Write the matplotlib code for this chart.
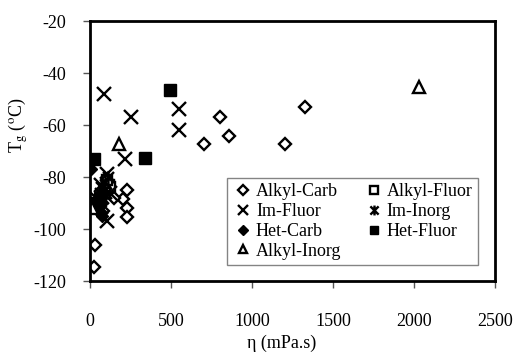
import matplotlib
matplotlib.use("Agg")
import matplotlib.pyplot as plt
from matplotlib.path import Path

plt.rcParams['font.family'] = ['Liberation Serif', 'DejaVu Serif']
plt.rcParams['mathtext.fontset'] = 'stix'
plt.rcParams['axes.unicode_minus'] = False

# viscosity (mPa.s) and Tg (C) per family
alkyl_carb_x = [1327, 802, 858, 704, 1204, 228, 204, 228, 228, 31, 25, 62, 80, 150]
alkyl_carb_y = [-53, -57, -64.3, -67.4, -67.4, -85, -88.5, -92, -95.5, -106, -114.7, -91, -93, -88]

alkyl_fluor_x = [115, 125, 105, 95]
alkyl_fluor_y = [-83, -84, -81, -86]

im_fluor_x = [88, 254, 550, 550, 218, 103, 103, 40, 70, 125]
im_fluor_y = [-48, -57, -54, -62, -73, -79, -97, -88, -83, -86]

im_inorg_x = [60, 70, 80, 90, 100, 50, 110, 75, 85]
im_inorg_y = [-86, -84, -88, -82, -86, -90, -80, -92, -85]

het_carb_x = [5, 62, 72, 50]
het_carb_y = [-77, -94, -95, -92]

het_fluor_x = [5, 25, 340, 494, 60]
het_fluor_y = [-90, -73, -72.8, -46.6, -88]

alkyl_inorg_x = [12, 179, 2031]
alkyl_inorg_y = [-92, -67.4, -45.4]

# excel style star: x with a vertical bar
star = Path([(-1, -1), (1, 1), (-1, 1), (1, -1), (0, -1.2), (0, 1.2)],
            [Path.MOVETO, Path.LINETO, Path.MOVETO, Path.LINETO, Path.MOVETO, Path.LINETO])

fig = plt.figure(figsize=(5.14, 3.52), dpi=100)
ax = fig.add_axes([90/514, 1-281/352, 405/514, 260/352])

kw = dict(linestyle='none', color='black')
h1, = ax.plot(alkyl_carb_x, alkyl_carb_y, marker='D', ms=6.5, mfc='white', mew=1.7, label='Alkyl-Carb', **kw)
h2, = ax.plot(alkyl_fluor_x, alkyl_fluor_y, marker='s', ms=7, mfc='white', mew=1.7, label='Alkyl-Fluor', **kw)
h3, = ax.plot(im_fluor_x, im_fluor_y, marker='x', ms=9.5, mew=1.7, label='Im-Fluor', **kw)
h4, = ax.plot(im_inorg_x, im_inorg_y, marker=star, ms=9.5, mew=1.7, label='Im-Inorg', **kw)
h5, = ax.plot(het_carb_x, het_carb_y, marker='D', ms=6.5, mfc='black', label='Het-Carb', **kw)
h6, = ax.plot(het_fluor_x, het_fluor_y, marker='s', ms=8.5, mfc='black', label='Het-Fluor', **kw)
h7, = ax.plot(alkyl_inorg_x, alkyl_inorg_y, marker='^', ms=8.5, mfc='white', mew=1.7, label='Alkyl-Inorg', **kw)

ax.set_xlim(0, 2500)
ax.set_ylim(-120, -20)
ax.set_xticks([0, 500, 1000, 1500, 2000, 2500])
ax.set_yticks([-120, -100, -80, -60, -40, -20])
ax.tick_params(direction='out', length=5, width=1, labelsize=13, color='#555555')
ax.tick_params(axis='x', pad=18)
ax.tick_params(axis='y', pad=12)
for s in ax.spines.values():
    s.set_linewidth(2)

leg = ax.legend(handles=[h1, h3, h5, h7, h2, h4, h6], ncol=2, loc='lower left',
                bbox_to_anchor=((218-90)/405, (281-274)/260, (487-218)/405, 100/260),
                mode='expand', fontsize=13, frameon=True, fancybox=False,
                borderpad=0.3, labelspacing=0.15, handletextpad=0.1,
                handlelength=1.2, columnspacing=0.8, markerscale=0.75)
leg.get_frame().set_edgecolor('#666666')
leg.get_frame().set_linewidth(1)

fig.text(18/514, 1-125/352, r'T$_{\rm g}$ ($^{\rm o}$C)', rotation=90,
         ha='center', va='center', fontsize=13)
fig.text(282/514, 1-343/352, 'η (mPa.s)', ha='center', va='center', fontsize=13)

fig.savefig('out.png', dpi=100)
